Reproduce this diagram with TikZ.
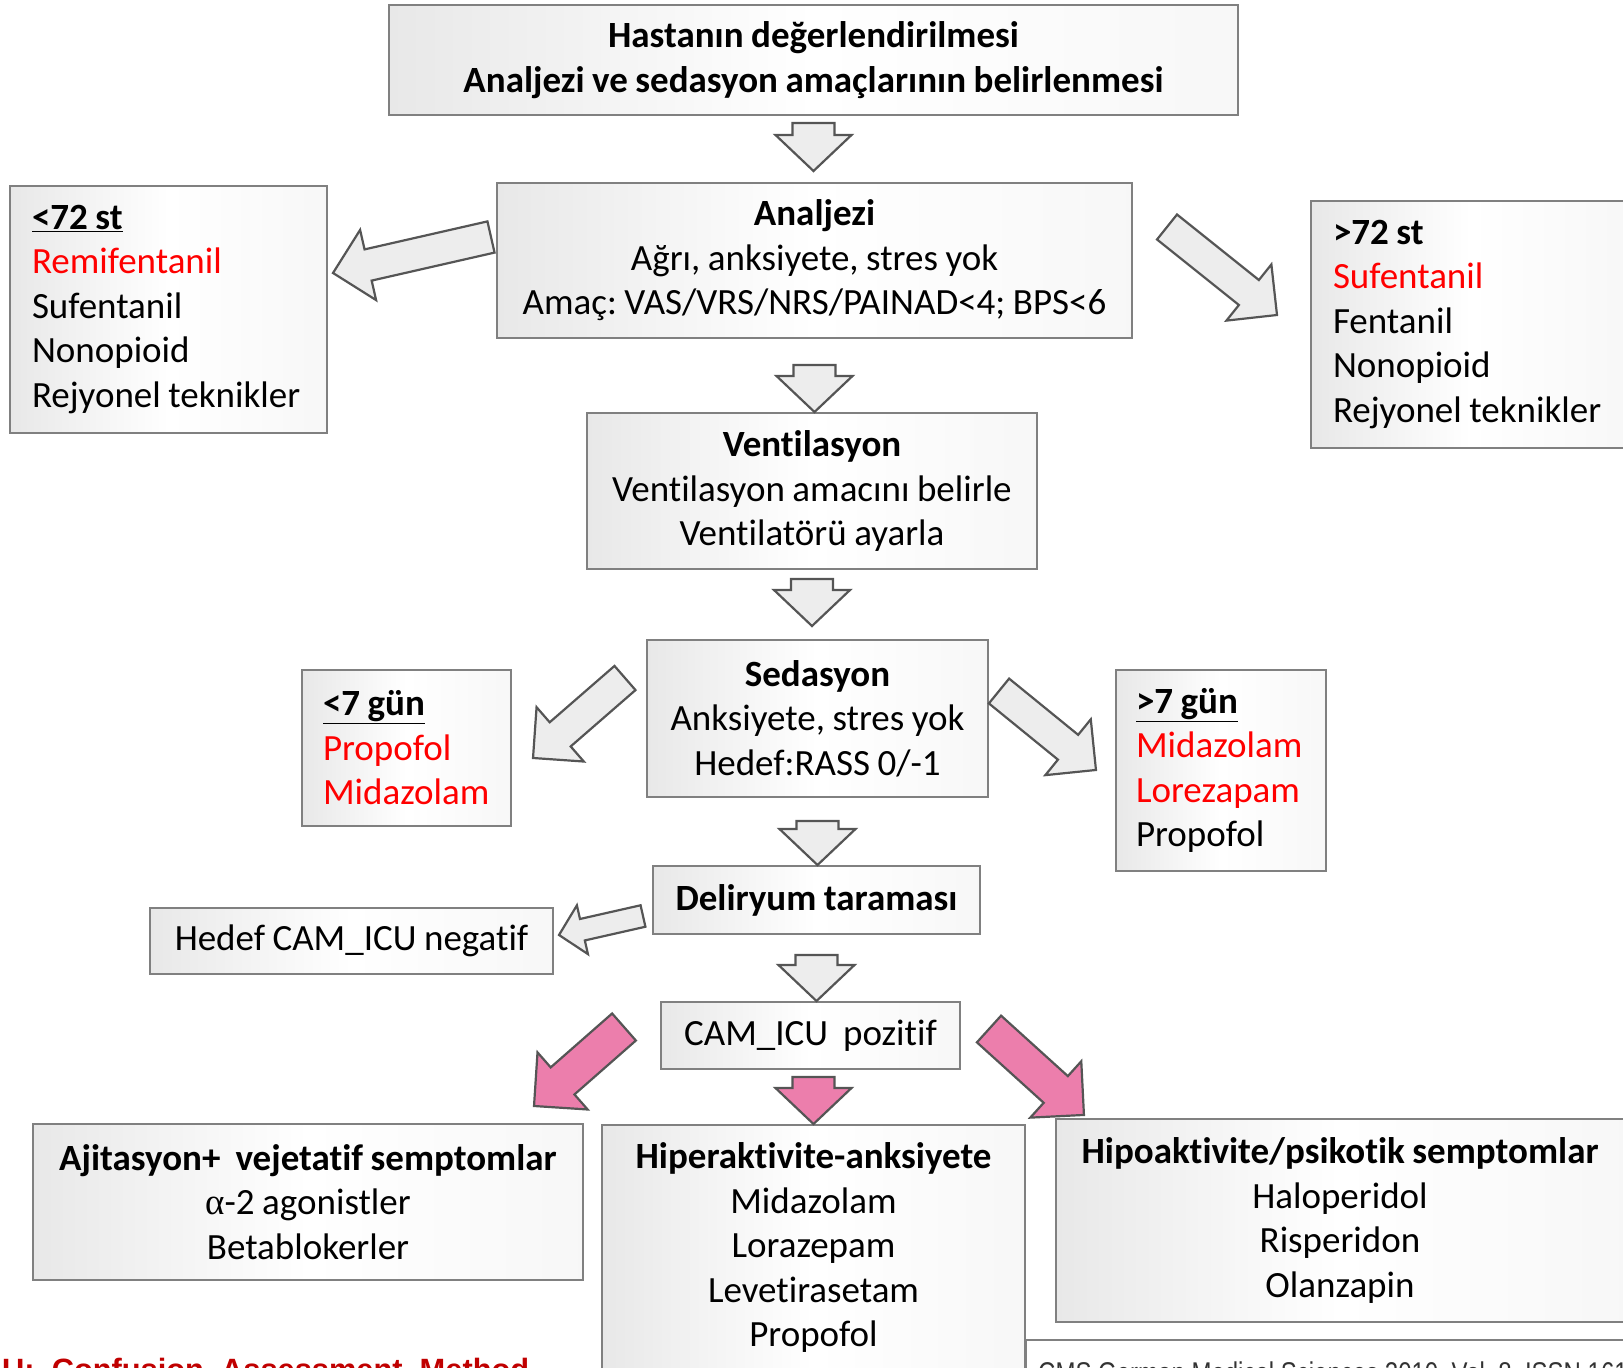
\documentclass[tikz,border=0pt]{standalone}
\usepackage{fontspec}
\setmainfont{Carlito}[WordSpace=0.9, Ligatures=CommonOff]
\newfontfamily\arialfont{Liberation Sans}
\newfontfamily\narrowfont[FakeStretch=0.8]{Liberation Sans}
\newfontfamily\greekfont{Liberation Serif}
\usetikzlibrary{calc}
\frenchspacing
\definecolor{boxline}{RGB}{128,128,128}
\definecolor{arrowline}{RGB}{85,85,85}
\definecolor{pinkarrow}{RGB}{236,126,172}
\definecolor{notered}{RGB}{192,0,0}
\tikzset{%
	box/.style 2 args = {draw=boxline, line width=2pt, left color=black!9, right color=black!3, middle color=white, minimum width=#1pt, minimum height=#2pt, inner sep=0pt, align=center},
	listbox/.style    = {align=flush left, inner xsep=22pt},
	fat/.style args   = {#1/#2/#3}{draw=arrowline, line width=2.2pt, line join=miter, to path={let \p1=(\tikztostart), \p2=(\tikztotarget), \n1={atan2(\y2-\y1,\x2-\x1)}, \n2={veclen(\x2-\x1,\y2-\y1)} in {[shift={(\p1)}, rotate=\n1] (0pt,-#1) -- ({\n2-#3},-#1) -- ({\n2-#3},-#2) -- ({\n2*1pt},0pt) -- ({\n2-#3},#2) -- ({\n2-#3},#1) -- (0pt,#1) -- cycle}}},
	downarrow/.style  = {fat=21pt/38pt/36pt, fill=black!7},
	sidearrow/.style  = {fat=16pt/36pt/36pt, fill=black!7},
	smallarrow/.style = {fat=11pt/25pt/24pt, fill=black!7},
	pinkdiag/.style   = {fat=18pt/38pt/38pt, fill=pinkarrow},
	pinkdown/.style   = {fat=21pt/38pt/36pt, fill=pinkarrow},
}

\begin{document}
\begin{tikzpicture}[x=1pt, y=-1pt, every node/.style={font=\fontsize{37}{44.5}\selectfont}]
	\useasboundingbox (0,0) rectangle (1623,1368);
	\clip (0,0) rectangle (1623,1368);
	% main column
	\node[box={849}{110}] (eval) at (813.5,60) {\textbf{Hastanın değerlendirilmesi}\\\textbf{Analjezi ve sedasyon amaçlarının belirlenmesi}};
	\node[box={635}{155}] (analj) at (814.5,260.5) {\textbf{Analjezi}\\Ağrı, anksiyete, stres yok\\Amaç: VAS/VRS/NRS/PAINAD<4; BPS<6};
	\node[box={450}{156}] (vent) at (812,491) {\textbf{Ventilasyon}\\Ventilasyon amacını belirle\\Ventilatörü ayarla};
	\node[box={341}{157}] (sed) at (817.5,718.5) {\textbf{Sedasyon}\\Anksiyete, stres yok\\Hedef:RASS 0/-1};
	\node[box={327}{68}] (delir) at (816.5,900) {\textbf{Deliryum taraması}};
	\node[box={299}{67}] (cam) at (810.5,1035.5) {CAM\_ICU\ \ pozitif};
	% side boxes
	\node[box={317}{247}, listbox, text width=273pt] (short72) at (168.5,309.5) {\textbf{\underline{<72 st}}\\\textcolor{red}{Remifentanil}\\Sufentanil\\Nonopioid\\Rejyonel teknikler};
	\node[box={319}{247}, listbox, text width=275pt] (long72) at (1470.5,324.5) {\textbf{>72 st}\\\textcolor{red}{Sufentanil}\\Fentanil\\Nonopioid\\Rejyonel teknikler};
	\node[box={209}{156}, listbox, inner xsep=21pt, text width=167pt] (short7) at (406.5,748) {\textbf{\underline{<7 gün}}\\\textcolor{red}{Propofol}\\\textcolor{red}{Midazolam}};
	\node[box={210}{201}, listbox, inner xsep=20pt, text width=170pt] (long7) at (1221,770.5) {\textbf{\underline{>7 gün}}\\\textcolor{red}{Midazolam}\\\textcolor{red}{Lorezapam}\\Propofol};
	\node[box={403}{66}] (hedef) at (351.5,941) {Hedef CAM\_ICU negatif};
	% bottom row
	\node[box={550}{156}] (ajit) at (308,1202) {\textbf{Ajitasyon+\ \ vejetatif semptomlar}\\{\greekfont α}-2 agonistler\\Betablokerler};
	\node[box={423}{245}] (hiper) at (813.5,1247.5) {\textbf{Hiperaktivite-anksiyete}\\Midazolam\\Lorazepam\\Levetirasetam\\Propofol};
	\node[box={568}{203}] (hipo) at (1340,1220.5) {\textbf{Hipoaktivite/psikotik semptomlar}\\Haloperidol\\Risperidon\\Olanzapin};
	% arrows down the middle
	\draw[downarrow] ([yshift=-7pt]eval.south) to ([yshift=11pt]eval.south |- analj.north);
	\draw[downarrow] ([yshift=-26pt]analj.south) to (analj.south |- vent.north);
	\draw[downarrow] ([yshift=-9pt]vent.south) to ([yshift=13pt]vent.south |- sed.north);
	\draw[downarrow] ([yshift=-23pt]sed.south) to (sed.south |- delir.north);
	\draw[downarrow] ([yshift=-20pt]delir.south) to (delir.south |- cam.north);
	\draw[pinkdown] ([yshift=-7pt]cam.south -| hiper.north) to (hiper.north);
	% arrows to the sides
	\draw[sidearrow] ([xshift=-5pt,yshift=23.5pt]analj.west) to ([xshift=5pt,yshift=36.5pt]short72.east);
	\draw[sidearrow] ([xshift=34pt,yshift=33.5pt]analj.east) to ([xshift=-33pt,yshift=9.5pt]long72.west);
	\draw[sidearrow] ([xshift=-21pt,yshift=40.5pt]sed.west) to ([xshift=21pt,yshift=-10pt]short7.east);
	\draw[sidearrow] ([xshift=10pt,yshift=27.5pt]sed.east) to ([xshift=-19pt,yshift=0.5pt]long7.west);
	\draw[smallarrow] ([xshift=-9pt,yshift=-16pt]delir.west) to ([xshift=5pt,yshift=6pt]hedef.east);
	\draw[pinkdiag] ([xshift=-36pt,yshift=8.5pt]cam.west) to ([xshift=-50pt,yshift=17pt]ajit.north east);
	\draw[pinkdiag] ([xshift=28pt,yshift=6.5pt]cam.east) to ([xshift=29pt,yshift=3pt]hipo.north west);
	% cut-off notes at the bottom
	\draw[boxline, line width=2pt] (1026,1340) rectangle (1640,1420);
	\node[anchor=base west, inner sep=0pt, text=black!80, font=\fontsize{30}{36}\narrowfont\selectfont] (source) at (1038,1383) {CMS German Medical Sciences 2010, Vol. 8, ISSN 1612};
	\node[anchor=base west, inner sep=0pt, text=notered, font=\fontsize{30.8}{36}\arialfont\bfseries\selectfont] (camnote) at (2,1380) {U:\ \ Confusion\ \ Assessment\ \ Method};
\end{tikzpicture}
\end{document}
